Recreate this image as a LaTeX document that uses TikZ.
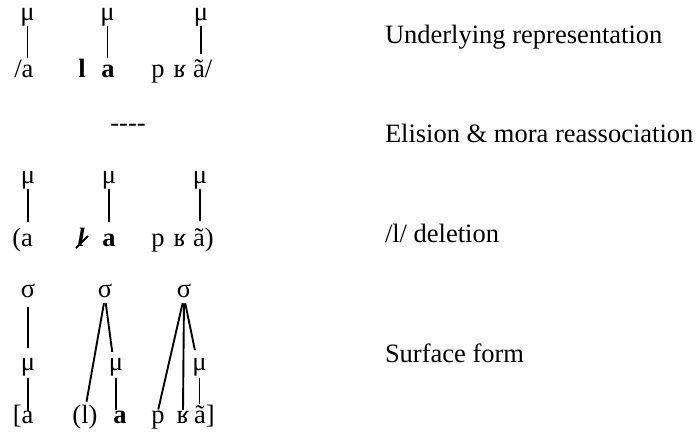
\documentclass[tikz,border=0pt]{standalone}
\usepackage{fontspec}
\setmainfont{Liberation Serif}
\begin{document}
\begin{tikzpicture}[x=1pt,y=-1pt,
  txt/.style={inner sep=0pt, outer sep=0pt, anchor=base, font=\fontsize{26.5}{30}\selectfont},
  lbl/.style={txt, anchor=base west},
  tie/.style={line width=1.9pt}]
\useasboundingbox (0,0) rectangle (698,437);

% ---------- Row 1: underlying representation ----------
\node[txt] (m11) at (27.5,20) {μ};
\node[txt] (m12) at (107.5,20) {μ};
\node[txt] (m13) at (201,20) {μ};
\node[txt] (a11) at (27.5,77) {a};
\node[txt, anchor=base east] (o11) at (a11.base west) {/};
\node[txt] (l12) at (82,77) {\textbf{l}};
\node[txt] (a12) at (108,77) {\textbf{a}};
\node[txt] (p13) at (158,77) {p};
\node[txt] (r13) at (180,77) {ʁ};
\node[txt] (a13) at (199,77) {ã};
\node[txt, anchor=base west] (c13) at (a13.base east) {/};
\draw[tie, shorten >=7pt] (m11.south) -- (m11.south |- a11.north);
\draw[tie, shorten >=7pt] (m12.south) -- (m12.south |- a12.north);
\draw[tie, shorten >=5pt] (m13.south) -- (m13.south |- a13.north);

% ---------- dashes ----------
\node[txt] (dd) at (128,131) {-{}-{}-{}-};

% ---------- Row 2: /l/ deletion ----------
\node[txt] (m21) at (28,183) {μ};
\node[txt] (m22) at (109,183) {μ};
\node[txt] (m23) at (200,183) {μ};
\node[txt] (a21) at (27,246) {a};
\node[txt, anchor=base east] (o21) at (a21.base west) {(};
\node[txt] (l22) at (81,246) {\textbf{\textit{l}}};
\draw[line width=2pt] ([shift={(-5pt,-2pt)}]l22.base) -- ([shift={(7pt,10pt)}]l22.base);
\node[txt] (a22) at (109,246) {\textbf{a}};
\node[txt] (p23) at (158,246) {p};
\node[txt] (r23) at (180,246) {ʁ};
\node[txt] (a23) at (199,246) {ã};
\node[txt, anchor=base west] (c23) at (a23.base east) {)};
\draw[tie, shorten >=12pt] (m21.south) -- (m21.south |- a21.north);
\draw[tie, shorten >=12pt] (m22.south) -- (m22.south |- a22.north);
\draw[tie, shorten >=7pt] (m23.south) -- (m23.south |- a23.north);

% ---------- Row 3: surface form ----------
\node[txt] (s31) at (28,297) {σ};
\node[txt] (s32) at (105,297) {σ};
\node[txt] (s33) at (184,297) {σ};
\node[txt] (m31) at (28,370) {μ};
\node[txt] (m32) at (116,370) {μ};
\node[txt] (m33) at (199.5,370) {μ};
\node[txt] (a31) at (27.5,423) {a};
\node[txt, anchor=base east] (o31) at (a31.base west) {[};
\node[txt] (l32) at (85,423) {(l)};
\node[txt] (a32) at (120,423) {\textbf{a}};
\node[txt] (p33) at (158,423) {p};
\node[txt] (r33) at (183,423) {ʁ};
\node[txt] (a33) at (200,423) {ã};
\node[txt, anchor=base west] (c33) at (a33.base east) {]};

\draw[tie, shorten <=10pt, shorten >=10pt] (s31.south) -- (s31.south |- m31.north);
\draw[tie, shorten <=2pt] (m31.south) -- (m31.south |- a31.north);
\draw[tie, shorten <=6pt, shorten >=3pt] (s32.south) -- ([xshift=1pt]l32.north);
\draw[tie, shorten <=6pt, shorten >=6pt] (s32.south) -- ([xshift=-3pt]m32.north);
\draw[tie, shorten <=2pt, shorten >=1pt] (m32.south) -- (m32.south |- a32.north);
\draw[tie, shorten <=6pt, shorten >=1pt] (s33.south) -- (p33.north);
\draw[tie, shorten <=6pt, shorten >=1pt] (s33.south) -- (r33.north);
\draw[tie, shorten <=6pt, shorten >=8pt] (s33.south) -- ([xshift=-3pt]m33.north);
\draw[tie, shorten <=2pt, shorten >=1pt] (m33.south) -- (m33.south |- a33.north);

% ---------- Right-hand labels ----------
\node[lbl] (t1) at (385,43) {Underlying representation};
\node[lbl] (t2) at (385,142) {Elision \& mora reassociation};
\node[lbl] (t3) at (385,242) {/l/ deletion};
\node[lbl] (t4) at (385,362) {Surface form};
\end{tikzpicture}
\end{document}
